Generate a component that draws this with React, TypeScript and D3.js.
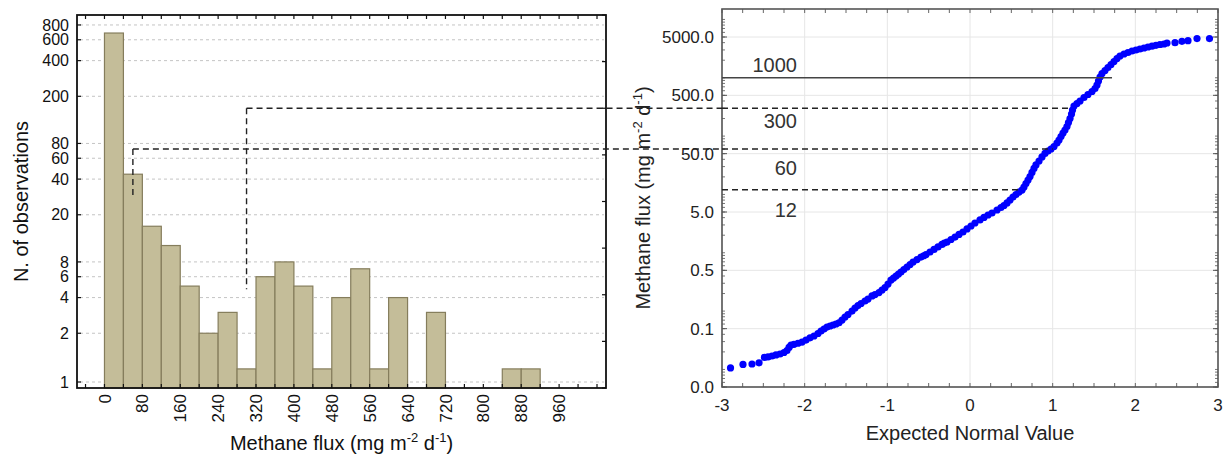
import React from "react";
import * as d3 from "d3";

// histogram of the fluxes (left panel), bins of 40
const binStarts = [0, 40, 80, 120, 160, 200, 240, 280, 320, 360, 400, 440, 480, 520, 560, 600, 640, 680, 720, 760, 800, 840, 880];
const binCounts = [684, 44, 16, 11, 5, 2, 3, 1, 6, 8, 5, 1, 4, 7, 1, 4, 0, 3, 0, 0, 0, 1, 1];
const binWidth = 40;
const fluxTicks = [0, 80, 160, 240, 320, 400, 480, 560, 640, 720, 800, 880, 960];
const countTicks = [1, 2, 4, 6, 8, 20, 40, 60, 80, 200, 400, 600, 800];

// normal probability plot (right panel)
const normalScores = [
  -2.897, -2.746, -2.637, -2.552, -2.486, -2.443, -2.395, -2.347, -2.298, -2.25,
  -2.214, -2.189, -2.165, -2.129, -2.081, -2.032, -1.984, -1.935, -1.887, -1.839,
  -1.802, -1.766, -1.73, -1.693, -1.657, -1.621, -1.585, -1.548, -1.512, -1.476,
  -1.427, -1.391, -1.355, -1.318, -1.27, -1.234, -1.185, -1.149, -1.101, -1.064,
  -1.028, -0.992, -0.956, -0.925, -0.895, -0.865, -0.835, -0.8, -0.762, -0.725,
  -0.689, -0.641, -0.593, -0.56, -0.532, -0.484, -0.435, -0.387, -0.339, -0.31,
  -0.278, -0.23, -0.181, -0.133, -0.085, -0.036,
  0.012, 0.06, 0.121, 0.169, 0.218, 0.266, 0.327, 0.375, 0.411, 0.448,
  0.484, 0.52, 0.556, 0.593, 0.629, 0.653, 0.677, 0.702, 0.726, 0.75,
  0.774, 0.798, 0.835, 0.871, 0.907, 0.944, 0.98, 1.016, 1.052, 1.077,
  1.101, 1.125, 1.149, 1.173, 1.191, 1.21, 1.228, 1.24, 1.258, 1.294,
  1.331, 1.379, 1.427, 1.476, 1.512, 1.536, 1.554, 1.573, 1.597, 1.633,
  1.669, 1.706, 1.742, 1.778, 1.814, 1.863, 1.911, 1.96, 2.008, 2.056,
  2.105, 2.153, 2.202, 2.25, 2.298, 2.347, 2.383, 2.48, 2.564, 2.637,
  2.746, 2.897,
];
const fluxValues = [
  0.0106, 0.0122, 0.0124, 0.013, 0.0161, 0.0164, 0.017, 0.0177, 0.0184, 0.0195,
  0.0211, 0.0238, 0.0262, 0.027, 0.0281, 0.0295, 0.0319, 0.0348, 0.0374, 0.0413,
  0.0456, 0.0493, 0.0533, 0.0555, 0.0578, 0.0601, 0.0632, 0.0703, 0.0792, 0.0874,
  0.1, 0.113, 0.1245, 0.135, 0.149, 0.161, 0.182, 0.192, 0.208, 0.23,
  0.254, 0.291, 0.341, 0.369, 0.4, 0.432, 0.468, 0.516, 0.57, 0.629,
  0.695, 0.766, 0.845, 0.89, 0.933, 1.03, 1.14, 1.26, 1.39, 1.47,
  1.53, 1.69, 1.86, 2.06, 2.27, 2.56,
  2.88, 3.24, 3.65, 4.03, 4.44, 4.81, 5.41, 5.97, 6.46, 7.14,
  8.03, 9.04, 9.98, 11.0, 11.9, 13.4, 15.4, 17.7, 20.3, 23.8,
  27.9, 32.0, 37.4, 43.9, 50.4, 55.6, 60.1, 66.4, 76.2, 85.8,
  98.5, 113, 127, 146, 171, 200, 239, 280, 328, 362,
  400, 459, 517, 582, 655, 752, 881, 1031, 1184, 1333,
  1501, 1689, 1901, 2141, 2362, 2556, 2713, 2879, 2994, 3114,
  3240, 3371, 3477, 3604, 3720, 3793, 3947, 3994, 4220, 4321,
  4695, 4695,
];
const normalTicks = [-3, -2, -1, 0, 1, 2, 3];
const fluxLogTicks = [0.005, 0.05, 0.5, 5, 50, 500, 5000];

// class limits drawn on the probability plot
const classLimits = [1000, 300, 60, 12];
const classLimitEnds = [1.718, 1.234, 1.004, 0.629];
const classLimitDashed = [false, true, true, true];
const classLabelShift = [-6, 20, 26, 27];
// limits carried over into the histogram: flux value and lowest count reached
const histLinks = [300, 60];
const histLinkBottoms = [4.7, 28];

const FONT = "'Liberation Sans', Arial, sans-serif";
const L = { left: 77, right: 606, top: 15, bottom: 388 };
const R = { left: 722, right: 1218, top: 9, bottom: 387 };

function FluxTitle() {
  // "Methane flux (mg m-2 d-1)" with raised exponents
  return (
    <>
      {"Methane flux (mg m"}
      <tspan fontSize={13} dy={-8}>-2</tspan>
      <tspan dy={8}>{" d"}</tspan>
      <tspan fontSize={13} dy={-8}>-1</tspan>
      <tspan dy={8}>)</tspan>
    </>
  );
}

export default function App() {
  const xL = d3.scaleLinear().domain([-58, 1059]).range([L.left, L.right]);
  const yL = d3.scaleLog().domain([0.69, 971]).range([L.bottom, L.top]);
  // statistica draws the "1" label at the very foot of the axis
  const countPos = (v: number) => (v === 1 ? L.bottom - 6 : yL(v));

  const xR = d3.scaleLinear().domain([-3, 3]).range([R.left, R.right]);
  const yR = d3.scaleLog().domain([0.005, 15100]).range([R.bottom, R.top]);

  const topTicksL = d3.range(-40, 1060, 40);
  const sideTicksL = d3.range(0, 9).map((i) => L.top + (i * (L.bottom - L.top)) / 8);
  const minorX = d3.range(-3, 3.001, 0.25);
  const minorY: number[] = [];
  [0.001, 0.01, 0.1, 1, 10, 100, 1000, 10000].forEach((dec) => {
    for (let k = 1; k < 10; k++) {
      const v = dec * k;
      if (v >= 0.005 && v <= 15100) minorY.push(v);
    }
  });

  const bars = binStarts
    .map((s, i) => ({ s, c: binCounts[i] }))
    .filter((d) => d.c > 0);

  return (
    <svg
      width={1224}
      height={456}
      style={{ position: "absolute", left: 0, top: 0, background: "#fff" }}
      fontFamily={FONT}
    >
      {/* ---------- left panel: histogram ---------- */}
      {countTicks.map((v) => (
        <line
          key={"gl" + v}
          x1={L.left + 3}
          x2={L.right - 2}
          y1={countPos(v)}
          y2={countPos(v)}
          stroke="#c4c4c4"
          strokeDasharray="3,3"
        />
      ))}
      {bars.map((d) => (
        <rect
          key={"b" + d.s}
          x={xL(d.s)}
          y={yL(d.c)}
          width={xL(d.s + binWidth) - xL(d.s)}
          height={L.bottom - yL(d.c)}
          fill="#c4bd99"
          stroke="#857d5c"
          strokeWidth={1.2}
        />
      ))}
      {topTicksL.map((v) => (
        <g key={"tt" + v}>
          <line x1={xL(v)} x2={xL(v)} y1={L.top} y2={L.top + 4} stroke="#111" strokeWidth={1.2} />
          <line x1={xL(v)} x2={xL(v)} y1={L.bottom} y2={L.bottom - 4} stroke="#111" strokeWidth={1.2} />
        </g>
      ))}
      {sideTicksL.map((y, i) => (
        <line key={"st" + i} x1={L.right} x2={L.right - 4} y1={y} y2={y} stroke="#111" strokeWidth={1.2} />
      ))}
      {countTicks.map((v) => (
        <line key={"lt" + v} x1={L.left} x2={L.left + 4} y1={countPos(v)} y2={countPos(v)} stroke="#111" strokeWidth={1.2} />
      ))}
      <rect
        x={L.left}
        y={L.top}
        width={L.right - L.left}
        height={L.bottom - L.top}
        fill="none"
        stroke="#111"
        strokeWidth={1.8}
      />
      {countTicks.map((v) => (
        <text
          key={"yl" + v}
          x={L.left - 8}
          y={countPos(v)}
          dy="0.35em"
          textAnchor="end"
          fontSize={16}
          fill="#111"
        >
          {v}
        </text>
      ))}
      {fluxTicks.map((v) => (
        <text
          key={"xl" + v}
          transform={`translate(${xL(v)},${L.bottom + 6}) rotate(-90)`}
          dy="0.36em"
          textAnchor="end"
          fontSize={17}
          fill="#111"
        >
          {v}
        </text>
      ))}
      <text
        transform={`translate(28,${(L.top + L.bottom) / 2}) rotate(-90)`}
        textAnchor="middle"
        fontSize={20}
        fill="#111"
      >
        N. of observations
      </text>
      <text x={(L.left + L.right) / 2} y={450} textAnchor="middle" fontSize={20} fill="#111">
        <FluxTitle />
      </text>

      {/* ---------- right panel: normal probability plot ---------- */}
      {normalTicks.map((v) => (
        <line key={"vg" + v} x1={xR(v)} x2={xR(v)} y1={R.top} y2={R.bottom} stroke="#e6e6e6" />
      ))}
      {fluxLogTicks.map((v) => (
        <line key={"hg" + v} x1={R.left} x2={R.right} y1={yR(v)} y2={yR(v)} stroke="#e6e6e6" />
      ))}
      {minorX.map((v) => (
        <g key={"mx" + v}>
          <line x1={xR(v)} x2={xR(v)} y1={R.bottom} y2={R.bottom - 4} stroke="#666" />
          <line x1={xR(v)} x2={xR(v)} y1={R.top} y2={R.top + 4} stroke="#666" />
        </g>
      ))}
      {minorY.map((v) => (
        <g key={"my" + v}>
          <line x1={R.left} x2={R.left + 3} y1={yR(v)} y2={yR(v)} stroke="#777" />
          <line x1={R.right} x2={R.right - 3} y1={yR(v)} y2={yR(v)} stroke="#777" />
        </g>
      ))}
      {fluxLogTicks.map((v) => (
        <g key={"my2" + v}>
          <line x1={R.left} x2={R.left + 5} y1={yR(v)} y2={yR(v)} stroke="#555" />
          <line x1={R.right} x2={R.right - 5} y1={yR(v)} y2={yR(v)} stroke="#555" />
        </g>
      ))}
      {normalScores.map((n, i) => (
        <circle key={"p" + i} cx={xR(n)} cy={yR(fluxValues[i])} r={3.6} fill="#0000ff" />
      ))}
      <rect
        x={R.left}
        y={R.top}
        width={R.right - R.left}
        height={R.bottom - R.top}
        fill="none"
        stroke="#555"
        strokeWidth={1.6}
      />
      {fluxLogTicks.map((v) => (
        <text
          key={"ry" + v}
          x={R.left - 8}
          y={yR(v)}
          dy="0.36em"
          textAnchor="end"
          fontSize={17}
          fill="#222"
        >
          {v.toFixed(1)}
        </text>
      ))}
      {normalTicks.map((v) => (
        <text key={"rx" + v} x={xR(v)} y={411} textAnchor="middle" fontSize={17} fill="#222">
          {v}
        </text>
      ))}
      <text x={(R.left + R.right) / 2} y={440} textAnchor="middle" fontSize={20} fill="#222">
        Expected Normal Value
      </text>
      <text
        transform={`translate(650,${(R.top + R.bottom) / 2}) rotate(-90)`}
        textAnchor="middle"
        fontSize={20}
        fill="#222"
      >
        <FluxTitle />
      </text>

      {/* ---------- class limits ---------- */}
      {classLimits.map((v, i) => (
        <g key={"cl" + v}>
          <line
            x1={R.left}
            x2={xR(classLimitEnds[i])}
            y1={yR(v)}
            y2={yR(v)}
            stroke={classLimitDashed[i] ? "#222" : "#444"}
            strokeWidth={1.4}
            strokeDasharray={classLimitDashed[i] ? "6,4" : undefined}
          />
          <text
            x={797}
            y={yR(v) + classLabelShift[i]}
            textAnchor="end"
            fontSize={20}
            fill="#333"
          >
            {v}
          </text>
        </g>
      ))}
      {histLinks.map((v, i) => (
        <g key={"hl" + v}>
          <line
            x1={xL(v)}
            x2={R.left}
            y1={yR(v)}
            y2={yR(v)}
            stroke="#222"
            strokeWidth={1.4}
            strokeDasharray="6,4"
          />
          <line
            x1={xL(v)}
            x2={xL(v)}
            y1={yR(v)}
            y2={yL(histLinkBottoms[i])}
            stroke="#222"
            strokeWidth={1.4}
            strokeDasharray="6,4"
          />
        </g>
      ))}
    </svg>
  );
}
